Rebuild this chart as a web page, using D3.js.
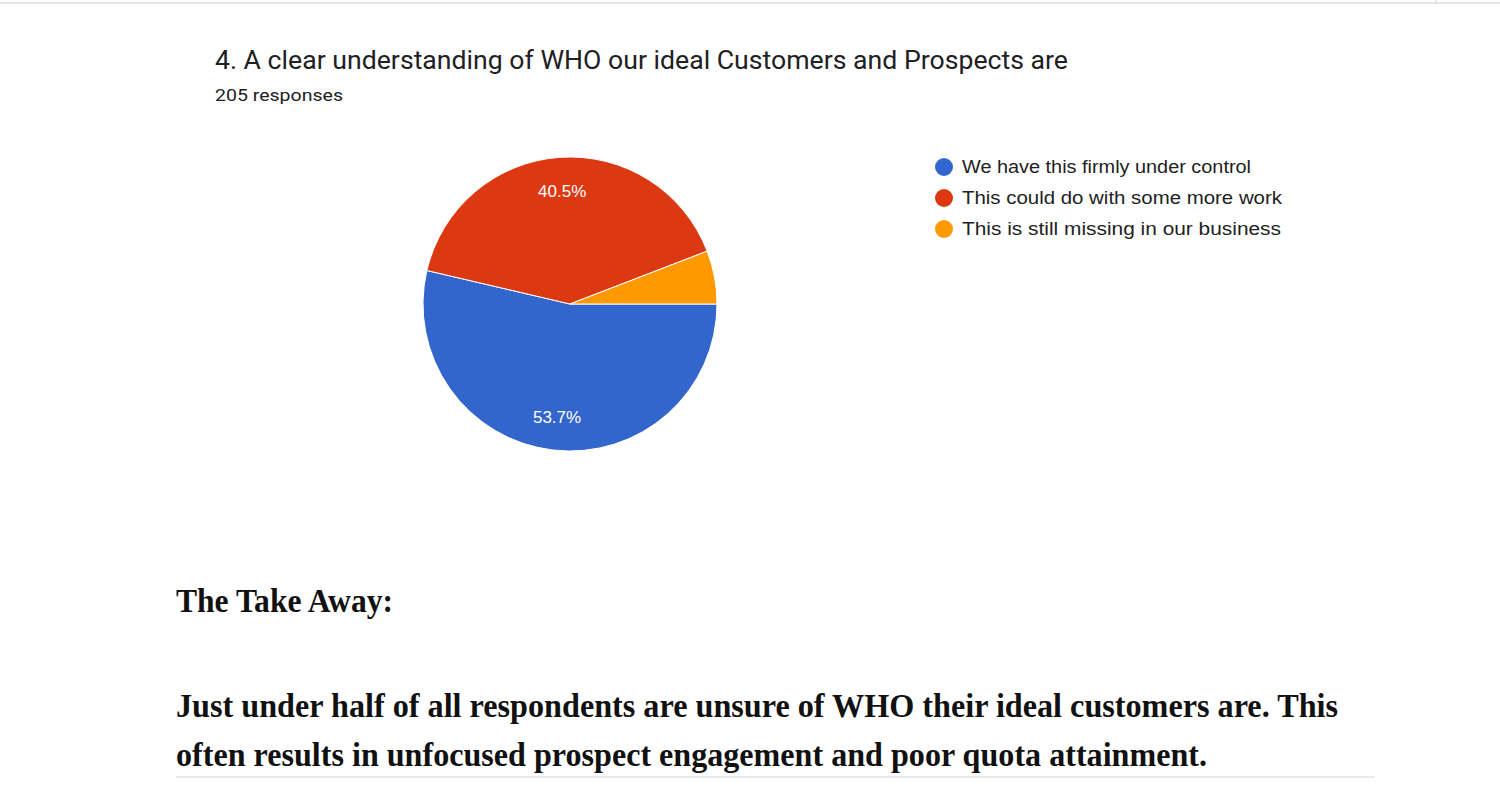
<!DOCTYPE html>
<html>
<head>
<meta charset="utf-8">
<script src="https://cdn.jsdelivr.net/npm/d3@7/dist/d3.min.js"></script>
<style>
  html, body { margin: 0; padding: 0; background: #fff; overflow: hidden; }
</style>
</head>
<body>
<svg id="chart" width="1500" height="796"></svg>
<script>
// ---- data ----
const categories = [
  "We have this firmly under control",
  "This could do with some more work",
  "This is still missing in our business"
];
const responses = [110, 83, 12];           // 205 responses
const colors = ["#3366cc", "#dc3912", "#ff9900"];
const titleText = "4. A clear understanding of WHO our ideal Customers and Prospects are";
const subtitleText = "205 responses";
const takeAwayHead = "The Take Away:";
const takeAwayLines = [
  "Just under half of all respondents are unsure of WHO their ideal customers are. This",
  "often results in unfocused prospect engagement and poor quota attainment."
];

const svg = d3.select("#chart");

// page border lines
svg.append("line").attr("x1", 0).attr("x2", 1500).attr("y1", 3).attr("y2", 3)
  .attr("stroke", "#e6e6e6").attr("stroke-width", 2);
svg.append("line").attr("x1", 1436).attr("x2", 1436).attr("y1", 0).attr("y2", 4)
  .attr("stroke", "#d0d0d0").attr("stroke-width", 1);

// title
svg.append("text").attr("x", 215).attr("y", 69)
  .attr("font-family", "Roboto, Arial, sans-serif").attr("font-size", 25)
  .attr("fill", "#202124")
  .attr("textLength", 853).attr("lengthAdjust", "spacingAndGlyphs")
  .text(titleText);
svg.append("text").attr("x", 215).attr("y", 101)
  .attr("font-family", "Roboto, Arial, sans-serif").attr("font-size", 16.5)
  .attr("font-weight", 400)
  .attr("fill", "#202124")
  .attr("textLength", 128).attr("lengthAdjust", "spacingAndGlyphs")
  .text(subtitleText);

// pie
const cx = 570, cy = 304, R = 147;
const total = d3.sum(responses);
const pie = d3.pie().sort(null).value(d => d)
  .startAngle(Math.PI / 2).endAngle(Math.PI / 2 + 2 * Math.PI);
const arcs = pie(responses);
const arc = d3.arc().innerRadius(0).outerRadius(R);
const labelArc = d3.arc().innerRadius(R * 0.77).outerRadius(R * 0.77);

const g = svg.append("g").attr("transform", `translate(${cx},${cy})`);
g.selectAll("path").data(arcs).enter().append("path")
  .attr("d", arc)
  .attr("fill", (d, i) => colors[i])
  .attr("stroke", "#ffffff").attr("stroke-width", 1);

g.selectAll("text.lbl").data(arcs.filter(d => d.value / total > 0.1)).enter()
  .append("text").attr("class", "lbl")
  .attr("transform", d => `translate(${labelArc.centroid(d)})`)
  .attr("text-anchor", "middle").attr("dy", "0.36em")
  .attr("font-family", "Arial, 'Liberation Sans', sans-serif").attr("font-size", 17)
  .attr("fill", "#ffffff")
  .text(d => (d.value / total * 100).toFixed(1) + "%");

// legend
const legendWidths = [289, 320, 319];
const lg = svg.append("g");
const rows = lg.selectAll("g").data(categories).enter().append("g")
  .attr("transform", (d, i) => `translate(944, ${167 + i * 31})`);
rows.append("circle").attr("r", 9).attr("fill", (d, i) => colors[i]);
rows.append("text").attr("x", 18).attr("y", 6)
  .attr("font-family", "Arial, 'Liberation Sans', sans-serif").attr("font-size", 17.5)
  .attr("fill", "#222222")
  .attr("textLength", (d, i) => legendWidths[i]).attr("lengthAdjust", "spacingAndGlyphs")
  .text(d => d);

// take-away text
const serif = "'Liberation Serif', 'Times New Roman', serif";
svg.append("text").attr("x", 176).attr("y", 612)
  .attr("font-family", serif).attr("font-size", 33).attr("font-weight", "bold")
  .attr("fill", "#111111")
  .attr("textLength", 217).attr("lengthAdjust", "spacingAndGlyphs")
  .text(takeAwayHead);
const lineWidths = [1162, 1031];
const lineY = [717, 766];
takeAwayLines.forEach((t, i) => {
  svg.append("text").attr("x", 176).attr("y", lineY[i])
    .attr("font-family", serif).attr("font-size", 33).attr("font-weight", "bold")
    .attr("fill", "#111111")
    .attr("textLength", lineWidths[i]).attr("lengthAdjust", "spacingAndGlyphs")
    .text(t);
});
svg.append("line").attr("x1", 176).attr("x2", 1375).attr("y1", 777).attr("y2", 777)
  .attr("stroke", "#e3e3e3").attr("stroke-width", 1.5);
</script>
</body>
</html>
